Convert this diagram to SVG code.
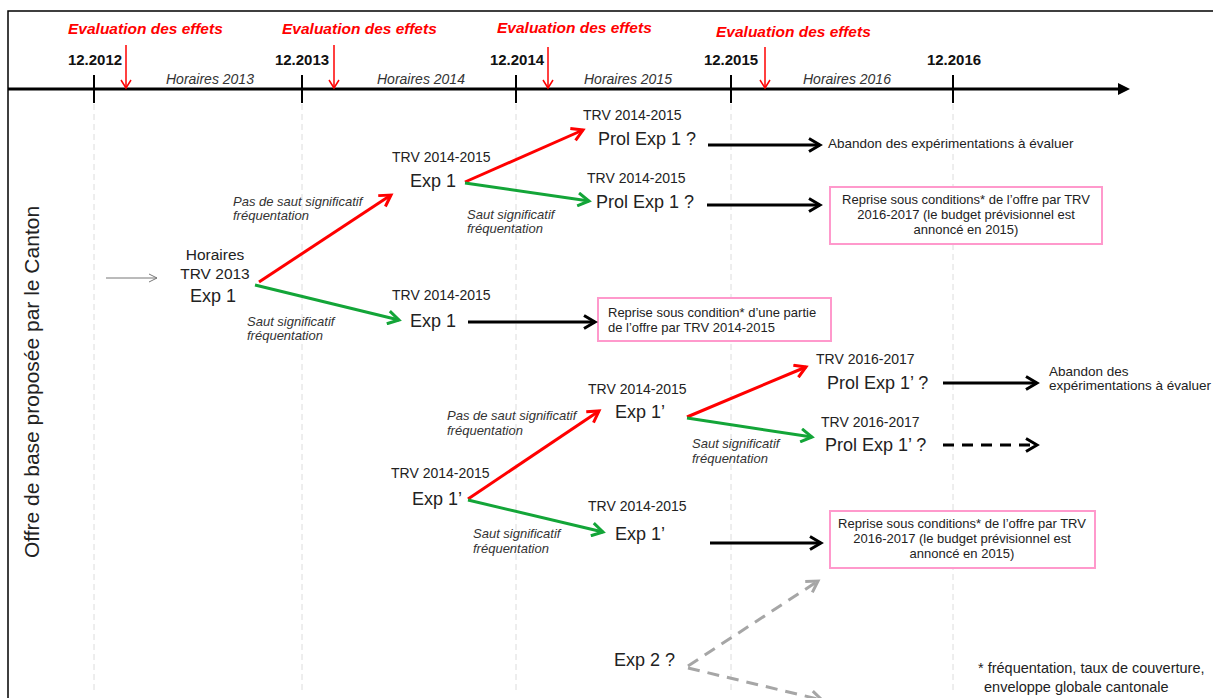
<svg xmlns="http://www.w3.org/2000/svg" width="1213" height="698" viewBox="0 0 1213 698">
<style>
text{font-family:"Liberation Sans",Arial,sans-serif;fill:#222}
.eval{font-size:15.5px;font-weight:bold;font-style:italic;fill:#ff0000}
.date{font-size:15px;font-weight:bold;fill:#111}
.hor{font-size:14px;font-style:italic;fill:#333}
.trv{font-size:14px}
.big{font-size:18px}
.mid{font-size:15.5px}
.cond{font-size:13px;font-style:italic;fill:#333}
.box{font-size:13px}
.note{font-size:13.5px}
.pink{fill:#fff;stroke:#ff99cc;stroke-width:2}
.vgrid{stroke:#dcdcdc;stroke-width:1;stroke-dasharray:6 4}
.red{stroke:#ff0000;stroke-width:3;fill:none;marker-end:url(#mr)}
.grn{stroke:#13a538;stroke-width:3;fill:none;marker-end:url(#mg)}
.blk{stroke:#000;stroke-width:3;fill:none;marker-end:url(#mb)}
.gry{stroke:#a6a6a6;stroke-width:3;fill:none;stroke-dasharray:12 8;marker-end:url(#mgr)}
</style>
<defs>
<marker id="mr" markerUnits="userSpaceOnUse" viewBox="0 0 16 16" refX="13" refY="8" markerWidth="16" markerHeight="16" orient="auto"><path d="M2,1.5 L13,8 L2,14.5" fill="none" stroke="#ff0000" stroke-width="3"/></marker>
<marker id="mg" markerUnits="userSpaceOnUse" viewBox="0 0 16 16" refX="13" refY="8" markerWidth="16" markerHeight="16" orient="auto"><path d="M2,1.5 L13,8 L2,14.5" fill="none" stroke="#13a538" stroke-width="3"/></marker>
<marker id="mb" markerUnits="userSpaceOnUse" viewBox="0 0 16 16" refX="13" refY="8" markerWidth="16" markerHeight="16" orient="auto"><path d="M2,1.5 L13,8 L2,14.5" fill="none" stroke="#000" stroke-width="3"/></marker>
<marker id="mgr" markerUnits="userSpaceOnUse" viewBox="0 0 16 16" refX="13" refY="8" markerWidth="16" markerHeight="16" orient="auto"><path d="M2,1.5 L13,8 L2,14.5" fill="none" stroke="#a6a6a6" stroke-width="3"/></marker>
<marker id="mthin" markerUnits="userSpaceOnUse" viewBox="0 0 10 10" refX="9" refY="5" markerWidth="10" markerHeight="10" orient="auto"><path d="M1,1 L9,5 L1,9" fill="none" stroke="#777" stroke-width="1"/></marker>
</defs>
<rect width="1213" height="698" fill="#fff"/>
<rect x="8" y="11" width="1230" height="720" fill="none" stroke="#000" stroke-width="1.5"/>

<g id="timeline">
<line x1="8" y1="89" x2="1120" y2="89" stroke="#000" stroke-width="3"/>
<polygon points="1118,83 1130,89 1118,95" fill="#000"/>
<g stroke="#000" stroke-width="2">
<line x1="94" y1="75" x2="94" y2="103"/>
<line x1="302" y1="75" x2="302" y2="103"/>
<line x1="516" y1="75" x2="516" y2="103"/>
<line x1="731" y1="75" x2="731" y2="103"/>
<line x1="953" y1="75" x2="953" y2="103"/>
</g>
<g class="vgrid">
<line x1="94" y1="104" x2="94" y2="692"/>
<line x1="302" y1="104" x2="302" y2="692"/>
<line x1="516" y1="104" x2="516" y2="692"/>
<line x1="731" y1="104" x2="731" y2="692"/>
<line x1="953" y1="104" x2="953" y2="692"/>
</g>
<text class="date" x="95" y="65" text-anchor="middle">12.2012</text>
<text class="date" x="302" y="65" text-anchor="middle">12.2013</text>
<text class="date" x="517" y="65" text-anchor="middle">12.2014</text>
<text class="date" x="731" y="65" text-anchor="middle">12.2015</text>
<text class="date" x="954" y="65" text-anchor="middle">12.2016</text>
<text class="hor" x="166" y="84">Horaires 2013</text>
<text class="hor" x="377" y="84">Horaires 2014</text>
<text class="hor" x="584" y="84">Horaires 2015</text>
<text class="hor" x="803" y="84">Horaires 2016</text>
</g>

<g id="evaluations">
<text class="eval" x="68" y="34">Evaluation des effets</text>
<text class="eval" x="282" y="34">Evaluation des effets</text>
<text class="eval" x="497" y="33">Evaluation des effets</text>
<text class="eval" x="716" y="37">Evaluation des effets</text>
<g stroke="#ff0000" stroke-width="1.5" fill="none">
<line x1="126" y1="45" x2="126" y2="88"/><path d="M121,80 L126,88 L131,80"/>
<line x1="334" y1="45" x2="334" y2="88"/><path d="M329,80 L334,88 L339,80"/>
<line x1="548" y1="47" x2="548" y2="88"/><path d="M543,80 L548,88 L553,80"/>
<line x1="765" y1="47" x2="765" y2="88"/><path d="M760,80 L765,88 L770,80"/>
</g>
</g>

<g id="canton-label">
<text x="39" y="382" font-size="21" text-anchor="middle" transform="rotate(-90 39 382)">Offre de base proposée par le Canton</text>
</g>

<g id="node-exp1-2013">
<text class="mid" x="215" y="260" text-anchor="middle">Horaires</text>
<text class="mid" x="215" y="279" text-anchor="middle">TRV 2013</text>
<text class="big" x="213" y="302" text-anchor="middle">Exp 1</text>
</g>
<g id="node-exp1-top">
<text class="trv" x="392" y="162">TRV 2014-2015</text>
<text class="big" x="410" y="187">Exp 1</text>
</g>
<g id="node-prol-abandon">
<text class="trv" x="583" y="120">TRV 2014-2015</text>
<text class="big" x="598" y="145">Prol Exp 1 ?</text>
</g>
<g id="node-abandon1">
<text class="note" x="828" y="148">Abandon des expérimentations à évaluer</text>
</g>
<g id="node-prol-reprise">
<text class="trv" x="587" y="183">TRV 2014-2015</text>
<text class="big" x="596" y="208">Prol Exp 1 ?</text>
</g>
<g id="box-reprise1">
<rect class="pink" x="830" y="187" width="272" height="57"/>
<text class="box" x="966" y="204" text-anchor="middle">Reprise sous conditions* de l’offre par TRV</text>
<text class="box" x="966" y="219" text-anchor="middle">2016-2017 (le budget prévisionnel est</text>
<text class="box" x="966" y="234" text-anchor="middle">annoncé en 2015)</text>
</g>
<g id="node-exp1-mid">
<text class="trv" x="392" y="300">TRV 2014-2015</text>
<text class="big" x="410" y="327">Exp 1</text>
</g>
<g id="box-reprise2">
<rect class="pink" x="598" y="298" width="233" height="43"/>
<text class="box" x="608" y="317">Reprise sous condition* d’une partie</text>
<text class="box" x="608" y="332">de l’offre par TRV 2014-2015</text>
</g>
<g id="node-exp1p">
<text class="trv" x="391" y="478">TRV 2014-2015</text>
<text class="big" x="412" y="505">Exp 1’</text>
</g>
<g id="node-exp1p-up">
<text class="trv" x="588" y="394">TRV 2014-2015</text>
<text class="big" x="615" y="418">Exp 1’</text>
</g>
<g id="node-exp1p-down">
<text class="trv" x="588" y="511">TRV 2014-2015</text>
<text class="big" x="615" y="540">Exp 1’</text>
</g>
<g id="node-prol1p-abandon">
<text class="trv" x="816" y="364">TRV 2016-2017</text>
<text class="big" x="827" y="389">Prol Exp 1’ ?</text>
</g>
<g id="node-abandon2">
<text class="note" x="1049" y="376">Abandon des</text>
<text class="note" x="1049" y="390">expérimentations à évaluer</text>
</g>
<g id="node-prol1p-next">
<text class="trv" x="821" y="427">TRV 2016-2017</text>
<text class="big" x="825" y="451">Prol Exp 1’ ?</text>
</g>
<g id="box-reprise3">
<rect class="pink" x="830" y="511" width="265" height="57"/>
<text class="box" x="962" y="528" text-anchor="middle">Reprise sous conditions* de l’offre par TRV</text>
<text class="box" x="962" y="543" text-anchor="middle">2016-2017 (le budget prévisionnel est</text>
<text class="box" x="962" y="558" text-anchor="middle">annoncé en 2015)</text>
</g>
<g id="node-exp2">
<text class="big" x="614" y="666">Exp 2 ?</text>
</g>
<g id="footnote">
<text font-size="14.5" x="978" y="673">* fréquentation, taux de couverture,</text>
<text font-size="14.5" x="984" y="692">enveloppe globale cantonale</text>
</g>

<g id="connectors">
<line x1="106" y1="278" x2="157" y2="278" stroke="#777" stroke-width="1" marker-end="url(#mthin)"/>
<line class="red" x1="259" y1="282" x2="391" y2="195"/>
<line class="grn" x1="255" y1="285" x2="399" y2="320"/>
<line class="red" x1="465" y1="182" x2="583" y2="130"/>
<line class="grn" x1="465" y1="183" x2="589" y2="201"/>
<line class="blk" x1="708" y1="145" x2="820" y2="145"/>
<line class="blk" x1="707" y1="205" x2="820" y2="205"/>
<line class="blk" x1="468" y1="322" x2="595" y2="322"/>
<line class="red" x1="468" y1="499" x2="599" y2="411"/>
<line class="grn" x1="468" y1="500" x2="603" y2="532"/>
<line class="red" x1="687" y1="417" x2="806" y2="367"/>
<line class="grn" x1="687" y1="418" x2="812" y2="437"/>
<line class="blk" x1="943" y1="383" x2="1037" y2="383"/>
<line class="blk" x1="943" y1="445" x2="1037" y2="445" stroke-dasharray="11 8"/>
<line class="blk" x1="710" y1="543" x2="821" y2="543"/>
<line class="gry" x1="688" y1="666" x2="818" y2="581"/>
<line class="gry" x1="688" y1="668" x2="822" y2="700"/>
<text class="cond" x="233" y="206">Pas de saut significatif</text>
<text class="cond" x="233" y="220">fréquentation</text>
<text class="cond" x="247" y="326">Saut significatif</text>
<text class="cond" x="247" y="340">fréquentation</text>
<text class="cond" x="467" y="219">Saut significatif</text>
<text class="cond" x="467" y="233">fréquentation</text>
<text class="cond" x="447" y="420">Pas de saut significatif</text>
<text class="cond" x="447" y="435">fréquentation</text>
<text class="cond" x="473" y="538">Saut significatif</text>
<text class="cond" x="473" y="553">fréquentation</text>
<text class="cond" x="692" y="448">Saut significatif</text>
<text class="cond" x="692" y="463">fréquentation</text>
</g>
</svg>
